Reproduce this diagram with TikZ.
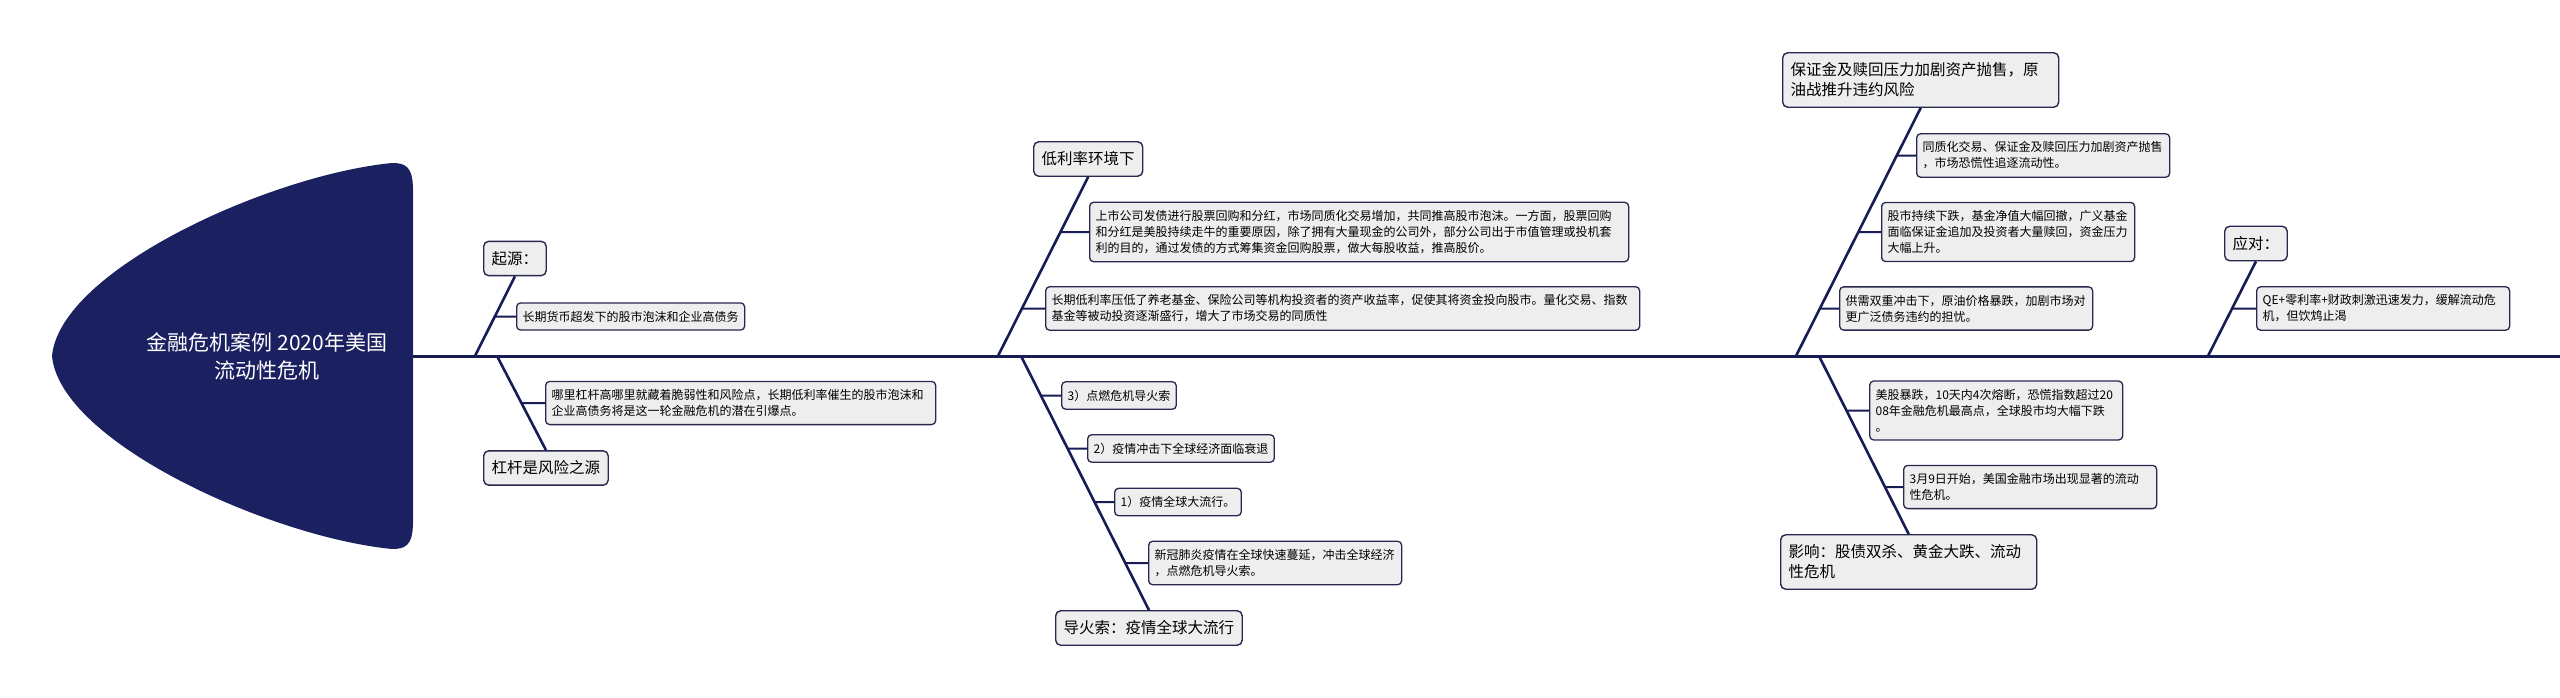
\documentclass[tikz,border=0pt]{standalone}
\usepackage{fontspec}
\newfontfamily\cjk{Noto Sans CJK SC}
\usetikzlibrary{calc}
\definecolor{HeadNavy}{RGB}{27, 32, 96}
\definecolor{LineNavy}{RGB}{24, 28, 84}
\definecolor{BoxEdge}{RGB}{38, 40, 78}
\definecolor{BoxFill}{RGB}{238, 238, 238}
\begin{document}
\begin{tikzpicture}[x=1pt, y=-1pt,
    spine/.style={draw=LineNavy, line width=3pt},
    bone/.style={draw=LineNavy, line width=2.6pt},
    twig/.style={draw=LineNavy, line width=2pt},
    topic/.style={draw=BoxEdge, fill=BoxFill, rounded corners=5pt, line width=1.4pt,
      anchor=west, align=left, inner xsep=8pt, inner ysep=10pt,
      font=\cjk\fontsize{15.5}{20}\selectfont},
    detail/.style={draw=BoxEdge, fill=BoxFill, rounded corners=4pt, line width=1.3pt,
      anchor=west, align=left, inner xsep=6pt, inner ysep=8pt,
      font=\cjk\fontsize{12}{16}\selectfont},
    wide/.style={text width=241pt}]
  \useasboundingbox (0,0) rectangle (2560,698);

  % head
  \fill[HeadNavy] (413,190) -- (413,522) .. controls (413,546) and (405,549) .. (392,549)
    .. controls (270,537) and (60,442) .. (52,356)
    .. controls (60,270) and (270,175) .. (392,163)
    .. controls (405,163) and (413,166) .. (413,190) -- cycle;
  \node[font=\cjk\fontsize{21}{28}\selectfont, text=white, align=center] (title) at (267,356)
    {金融危机案例 2020年美国\\流动性危机};

  \coordinate (spineL) at (413,356);
  \coordinate (spineR) at (2560,356);
  \coordinate (b1u) at (475,356);
  \coordinate (b1d) at (497,356);
  \coordinate (b2u) at (998,356);
  \coordinate (b2d) at (1021,356);
  \coordinate (b3u) at (1796,356);
  \coordinate (b3d) at (1819,356);
  \coordinate (b4u) at (2208,356);

  % topics
  \node[topic] (origin) at (483,258.5) {起源：};
  \node[topic] (lever) at (483,468) {杠杆是风险之源};
  \node[topic] (lowrate) at (1033,159) {低利率环境下};
  \node[topic] (fuse) at (1055,628) {导火索：疫情全球大流行};
  \node[topic, text width=260pt] (margin) at (1782,80) {保证金及赎回压力加剧资产抛售，原\\油战推升违约风险};
  \node[topic, text width=240pt] (impact) at (1780,562) {影响：股债双杀、黄金大跌、流动\\性危机};
  \node[topic] (response) at (2224,243.5) {应对：};

  % details
  \node[detail] (s1a) at (516,316.5) {长期货币超发下的股市泡沫和企业高债务};
  \node[detail, text width=378pt] (s1b) at (545,403) {哪里杠杆高哪里就藏着脆弱性和风险点，长期低利率催生的股市泡沫和\\企业高债务将是这一轮金融危机的潜在引爆点。};
  \node[detail, text width=527pt] (s2a) at (1089,232) {上市公司发债进行股票回购和分红，市场同质化交易增加，共同推高股市泡沫。一方面，股票回购\\和分红是美股持续走牛的重要原因，除了拥有大量现金的公司外，部分公司出于市值管理或投机套\\利的目的，通过发债的方式筹集资金回购股票，做大每股收益，推高股价。};
  \node[detail, text width=582pt] (s2b) at (1045,308.5) {长期低利率压低了养老基金、保险公司等机构投资者的资产收益率，促使其将资金投向股市。量化交易、指数\\基金等被动投资逐渐盛行，增大了市场交易的同质性};
  \node[detail] (s2c) at (1061,395.5) {3）点燃危机导火索};
  \node[detail] (s2d) at (1087,448.5) {2）疫情冲击下全球经济面临衰退};
  \node[detail] (s2e) at (1114,502) {1）疫情全球大流行。};
  \node[detail, wide] (s2f) at (1148,563) {新冠肺炎疫情在全球快速蔓延，冲击全球经济\\，点燃危机导火索。};
  \node[detail, wide] (s3a) at (1916,155.5) {同质化交易、保证金及赎回压力加剧资产抛售\\，市场恐慌性追逐流动性。};
  \node[detail, wide] (s3b) at (1881,232) {股市持续下跌，基金净值大幅回撤，广义基金\\面临保证金追加及投资者大量赎回，资金压力\\大幅上升。};
  \node[detail, wide] (s3c) at (1839,308.5) {供需双重冲击下，原油价格暴跌，加剧市场对\\更广泛债务违约的担忧。};
  \node[detail, wide] (s3d) at (1869,410.5) {美股暴跌，10天内4次熔断，恐慌指数超过20\\08年金融危机最高点，全球股市均大幅下跌\\。};
  \node[detail, wide] (s3e) at (1903,487) {3月9日开始，美国金融市场出现显著的流动\\性危机。};
  \node[detail, wide] (s4a) at (2256,308.5) {QE+零利率+财政刺激迅速发力，缓解流动危\\机，但饮鸩止渴};

  % bones
  \draw[spine] (spineL) -- (spineR);
  \draw[bone] (b1u) -- (origin.south);
  \draw[bone] (b1d) -- (lever.north);
  \draw[bone] (b2u) -- (lowrate.south);
  \draw[bone] (b2d) -- (fuse.north);
  \draw[bone] (b3u) -- (margin.south);
  \draw[bone] (b3d) -- (impact.north);
  \draw[bone] (b4u) -- (response.south);

  \draw[twig] (intersection of b1u--origin.south and s1a.west--s1a.east) -- (s1a.west);
  \draw[twig] (intersection of b1d--lever.north and s1b.west--s1b.east) -- (s1b.west);
  \draw[twig] (intersection of b2u--lowrate.south and s2a.west--s2a.east) -- (s2a.west);
  \draw[twig] (intersection of b2u--lowrate.south and s2b.west--s2b.east) -- (s2b.west);
  \draw[twig] (intersection of b2d--fuse.north and s2c.west--s2c.east) -- (s2c.west);
  \draw[twig] (intersection of b2d--fuse.north and s2d.west--s2d.east) -- (s2d.west);
  \draw[twig] (intersection of b2d--fuse.north and s2e.west--s2e.east) -- (s2e.west);
  \draw[twig] (intersection of b2d--fuse.north and s2f.west--s2f.east) -- (s2f.west);
  \draw[twig] (intersection of b3u--margin.south and s3a.west--s3a.east) -- (s3a.west);
  \draw[twig] (intersection of b3u--margin.south and s3b.west--s3b.east) -- (s3b.west);
  \draw[twig] (intersection of b3u--margin.south and s3c.west--s3c.east) -- (s3c.west);
  \draw[twig] (intersection of b3d--impact.north and s3d.west--s3d.east) -- (s3d.west);
  \draw[twig] (intersection of b3d--impact.north and s3e.west--s3e.east) -- (s3e.west);
  \draw[twig] (intersection of b4u--response.south and s4a.west--s4a.east) -- (s4a.west);
\end{tikzpicture}
\end{document}
